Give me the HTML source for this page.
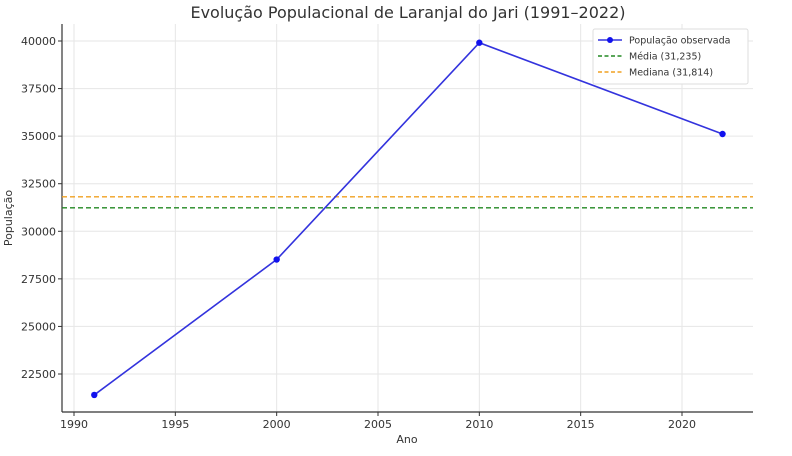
<!DOCTYPE html>
<html><head><meta charset="utf-8"><style>
html,body{margin:0;padding:0;background:#fff;}
svg{display:block;font-family:"DejaVu Sans","Liberation Sans",sans-serif;}
</style></head><body>
<svg id="chart" width="792" height="456" viewBox="0 0 792 456">
<text x="408" y="18" text-anchor="middle" font-size="16" fill="#333">Evolução Populacional de Laranjal do Jari (1991–2022)</text>
<g id="grid"></g>
<g id="ticks"></g>
<line x1="62" y1="24" x2="62" y2="412" stroke="#333" stroke-width="1.2"/>
<line x1="62" y1="412" x2="753" y2="412" stroke="#333" stroke-width="1.2"/>
<g id="refs"></g>
<g id="series"></g>
<text x="407" y="443" text-anchor="middle" font-size="11" fill="#333">Ano</text>
<text transform="translate(12,218) rotate(-90)" text-anchor="middle" font-size="11" fill="#333">População</text>
<g>
<rect x="593" y="29" width="155" height="55" fill="#fff" stroke="#ddd" rx="2"/>
<g>
<line x1="598" y1="40" x2="622" y2="40" stroke="#3333dd" stroke-width="1.6"/><circle cx="610" cy="40" r="3" fill="#1111ee"/>
<text x="629" y="43.5" font-size="9.5" fill="#333">População observada</text></g>
<g>
<line x1="598" y1="56" x2="622" y2="56" stroke="#228822" stroke-width="1.4" stroke-dasharray="4,2.5"/>
<text x="629" y="59.5" font-size="9.5" fill="#333">Média (31,235)</text></g>
<g>
<line x1="598" y1="72" x2="622" y2="72" stroke="#f0a020" stroke-width="1.4" stroke-dasharray="4,2.5"/>
<text x="629" y="75.5" font-size="9.5" fill="#333">Mediana (31,814)</text></g>
</g>
</svg>
<script>
const years = [1991, 2000, 2010, 2022];
const population = [21400, 28515, 39910, 35113];
const meanValue = [31235];
const medianValue = [31814];
const xTicks = [1990, 1995, 2000, 2005, 2010, 2015, 2020];
const yTicks = [22500, 25000, 27500, 30000, 32500, 35000, 37500, 40000];

const NS = "http://www.w3.org/2000/svg";
function x(v){ return 74 + (v - 1990) * (682 - 74) / 30; }
function y(v){ return 41 + (40000 - v) * (374 - 41) / 17500; }
function mk(tag, attrs, parent){
  const e = document.createElementNS(NS, tag);
  for (const k in attrs) e.setAttribute(k, attrs[k]);
  document.getElementById(parent).appendChild(e);
  return e;
}
xTicks.forEach(t => {
  const g = mk('line', {x1:x(t), x2:x(t), y1:24, y2:412, stroke:'#e6e6e6', 'stroke-width':1}, 'grid');
  
  
  mk('line', {x1:x(t), x2:x(t), y1:412, y2:416, stroke:'#333'}, 'ticks');
  const l = mk('text', {x:x(t), y:428, 'text-anchor':'middle', 'font-size':11, fill:'#333'}, 'ticks');
  l.textContent = t;
  
  
});
yTicks.forEach(t => {
  const g = mk('line', {x1:62, x2:753, y1:y(t), y2:y(t), stroke:'#e6e6e6', 'stroke-width':1}, 'grid');
  
  
  mk('line', {x1:58, x2:62, y1:y(t), y2:y(t), stroke:'#333'}, 'ticks');
  const l = mk('text', {x:56, y:y(t)+4, 'text-anchor':'end', 'font-size':11, fill:'#333'}, 'ticks');
  l.textContent = t;
  
  
});
const mean = mk('line', {x1:62, x2:753, y1:y(meanValue[0]), y2:y(meanValue[0]), stroke:'#228822', 'stroke-width':1.4, 'stroke-dasharray':'5,3'}, 'refs');


const med = mk('line', {x1:62, x2:753, y1:y(medianValue[0]), y2:y(medianValue[0]), stroke:'#f0a020', 'stroke-width':1.4, 'stroke-dasharray':'5,3'}, 'refs');


const pts = years.map((yr, i) => x(yr) + ',' + y(population[i])).join(' ');
const line = mk('polyline', {points:pts, fill:'none', stroke:'#3333dd', 'stroke-width':1.6}, 'series');


years.forEach((yr, i) => {
  const c = mk('circle', {cx:x(yr), cy:y(population[i]), r:3.2, fill:'#1111ee'}, 'series');
  
  
});
</script>
</body></html>
